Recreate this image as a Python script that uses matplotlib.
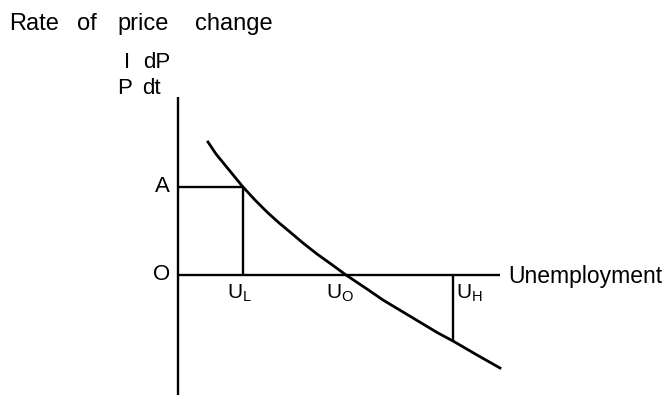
import matplotlib.pyplot as plt

# Phillips-type curve, in chart units (origin where the axes cross)
curve_x = [30, 38, 47, 56, 65, 77, 89, 100, 112, 125, 139, 153, 168,
           189, 205, 225, 245, 260, 275, 299, 322]
curve_y = [133, 121, 110, 99, 88, 75, 63, 53, 43, 32, 21, 11, 0,
           -14, -25, -37, -49, -58, -66, -80, -93]

# marked points on the curve
level_a = 88          # rate of price change at U_L
u_low = 65            # U_L
u_zero = 168          # U_0
u_high = 275          # U_H
u_high_rate = -66

axis_top = 178
axis_bottom = -120
axis_right = 322

title_words = ['Rate', 'of', 'price', 'change']
title_word_x = [-169, -101, -61, 17]

plt.rcParams['font.family'] = ['Liberation Sans', 'DejaVu Sans']
plt.rcParams['mathtext.fontset'] = 'custom'
plt.rcParams['mathtext.rm'] = 'Liberation Sans'

fig = plt.figure(figsize=(6.66, 3.97), dpi=100)
ax = fig.add_axes([0, 0, 1, 1])
ax.set_xlim(-178, 488)
ax.set_ylim(-122, 275)
ax.axis('off')

lw = 1.7
# axes
ax.plot([0, 0], [axis_bottom, axis_top], color='black', lw=lw, solid_capstyle='butt')
ax.plot([0, axis_right], [0, 0], color='black', lw=lw, solid_capstyle='butt')

# curve
ax.plot(curve_x, curve_y, color='black', lw=2.0)

# A and U_L guide lines
ax.plot([0, u_low], [level_a, level_a], color='black', lw=lw, solid_capstyle='butt')
ax.plot([u_low, u_low], [0, level_a], color='black', lw=lw, solid_capstyle='butt')
# U_H guide line
ax.plot([u_high, u_high], [0, u_high_rate], color='black', lw=lw, solid_capstyle='butt')

fs = 16
for word, wx in zip(title_words, title_word_x):
    ax.text(wx, 251, word, fontsize=17, ha='left', va='center')
ax.text(-54, 212, 'I', fontsize=fs, ha='left', va='center')
ax.text(-35, 212, 'dP', fontsize=fs, ha='left', va='center')
ax.text(-61, 187, 'P', fontsize=fs, ha='left', va='center')
ax.text(-36, 187, 'dt', fontsize=fs, ha='left', va='center')
ax.text(-8, level_a, 'A', fontsize=fs, ha='right', va='center')
ax.text(-8, 0, 'O', fontsize=fs, ha='right', va='center')
fs_u = 15
ax.text(u_low - 16, -18, r'$\mathregular{U_L}$', fontsize=fs_u, ha='left', va='center')
ax.text(u_zero - 20, -18, r'$\mathregular{U_O}$', fontsize=fs_u, ha='left', va='center')
ax.text(u_high + 3, -18, r'$\mathregular{U_H}$', fontsize=fs_u, ha='left', va='center')
ax.text(axis_right + 8, -1, 'Unemployment', fontsize=16.5, ha='left', va='center')

fig.savefig('out.png', dpi=100)
